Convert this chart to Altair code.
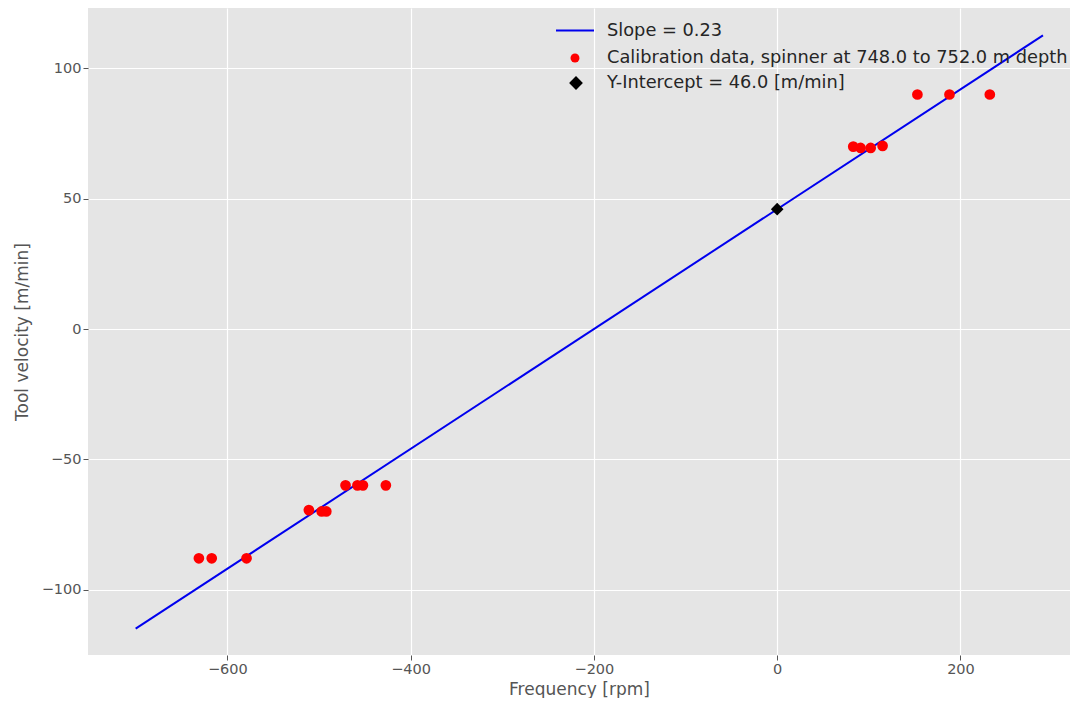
import altair as alt
import pandas as pd

# Calibration data
freq = [-631, -617, -579, -511, -497, -492, -471, -458, -452, -427,
        83, 91, 102, 115, 153, 188, 232]
vel = [-88, -88, -88, -69.5, -70, -70, -60, -60, -60, -60,
       70, 69.5, 69.5, 70.3, 90, 90, 90]

# Fitted line end points
line_x = [-700, 290]
line_y = [-115.0, 112.7]

# Intercept
icpt_x = [0]
icpt_y = [46.0]

legend_labels = ["Slope = 0.23",
                 "Calibration data, spinner at 748.0 to 752.0 m depth",
                 "Y-Intercept = 46.0 [m/min]"]

xdom = [-752, 319.5]
ydom = [-125.1, 123.2]

pts = pd.DataFrame({"f": freq, "v": vel})
ln = pd.DataFrame({"f": line_x, "v": line_y})
ic = pd.DataFrame({"f": icpt_x, "v": icpt_y})

X = alt.X("f:Q", scale=alt.Scale(domain=xdom, nice=False, zero=False),
          axis=alt.Axis(title="Frequency [rpm]", values=[-600, -400, -200, 0, 200], format="d",
                        titleY=39, titleBaseline="alphabetic"))
Y = alt.Y("v:Q", scale=alt.Scale(domain=ydom, nice=False, zero=False),
          axis=alt.Axis(title="Tool velocity [m/min]", values=[-100, -50, 0, 50, 100], format="d"))

line = alt.Chart(ln).mark_line(color="#0000EE", strokeWidth=2, clip=True).encode(x=X, y=Y)
points = alt.Chart(pts).mark_circle(color="#FF0000", size=115, opacity=1).encode(x=X, y=Y)
icpt = alt.Chart(ic).mark_point(shape="diamond", filled=True, color="black", size=160, opacity=1).encode(x=X, y=Y)

# Legend (drawn manually, top right inside the plot)
leg_df = pd.DataFrame({"label": legend_labels})
font = "DejaVu Sans"
tcol = "#262626"
lfs = 17.8
leg_line = alt.Chart(leg_df.iloc[[0]]).mark_rule(color="#0000EE", strokeWidth=2).encode(
    x=alt.value(468), x2=alt.value(506), y=alt.value(22.5))
leg_pt = alt.Chart(leg_df.iloc[[1]]).mark_circle(color="#FF0000", size=80, opacity=1).encode(
    x=alt.value(487), y=alt.value(50))
leg_dm = alt.Chart(leg_df.iloc[[2]]).mark_point(shape="diamond", filled=True, color="black", size=190, opacity=1).encode(
    x=alt.value(488), y=alt.value(75))
leg_t1 = alt.Chart(leg_df.iloc[[0]]).mark_text(align="left", baseline="middle", font=font, fontSize=lfs, color=tcol).encode(
    x=alt.value(519), y=alt.value(22.5), text="label:N")
leg_t2 = alt.Chart(leg_df.iloc[[1]]).mark_text(align="left", baseline="middle", font=font, fontSize=lfs, color=tcol).encode(
    x=alt.value(519), y=alt.value(49.5), text="label:N")
leg_t3 = alt.Chart(leg_df.iloc[[2]]).mark_text(align="left", baseline="middle", font=font, fontSize=lfs, color=tcol).encode(
    x=alt.value(519), y=alt.value(74.5), text="label:N")

chart = alt.layer(line, points, icpt, leg_line, leg_pt, leg_dm, leg_t1, leg_t2, leg_t3).properties(
    width=982, height=647,
    autosize=alt.AutoSizeParams(type="none"),
    padding={"left": 80, "top": 0, "right": 0, "bottom": 43},
).configure_view(fill="#E5E5E5", stroke=None).configure_axis(
    grid=True, gridColor="white", gridWidth=1.2, domain=False,
    tickColor="#555555", tickSize=5, tickWidth=1,
    labelColor="#555555", labelFont=font, labelFontSize=14.5, labelPadding=2,
    titleColor="#555555", titleFont=font, titleFontSize=17, titleFontWeight="normal",
).configure_axisY(titlePadding=10)

chart.save("out.html", embed_options={"renderer": "svg", "actions": False})
